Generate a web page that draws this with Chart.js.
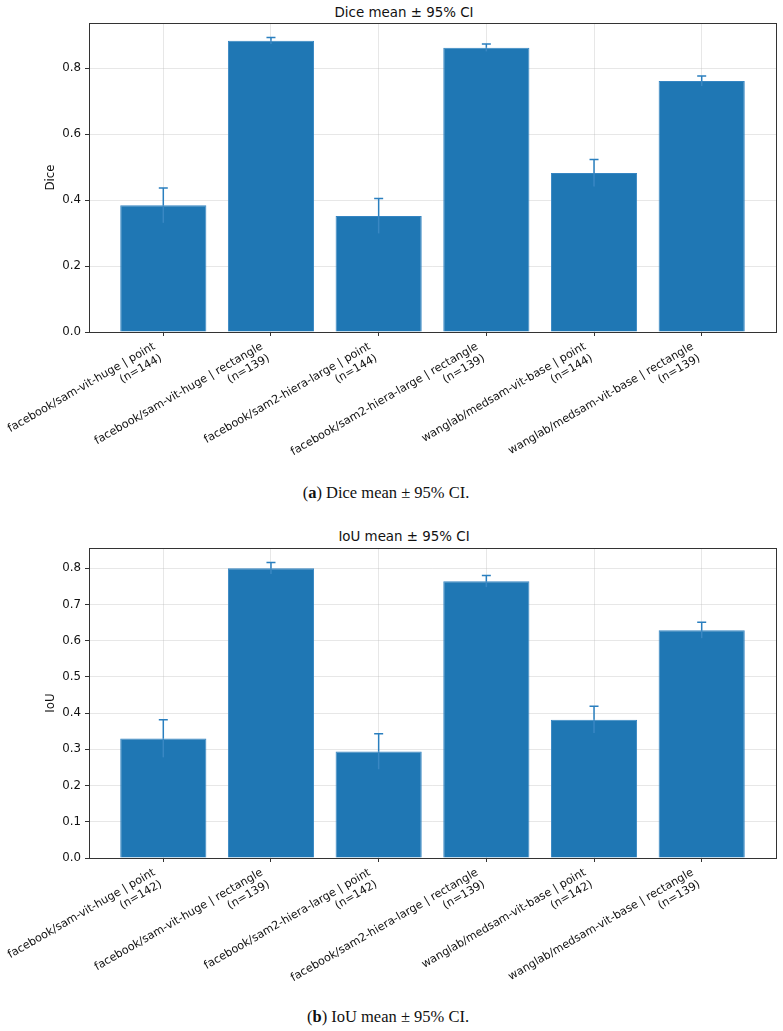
<!DOCTYPE html>
<html>
<head>
<meta charset="utf-8">
<script src="https://cdn.jsdelivr.net/npm/chart.js@4.4.1/dist/chart.umd.min.js"></script>
<style>
  body { margin: 0; background: #fff; width: 783px; height: 1031px; position: relative; overflow: hidden; }
  canvas { position: absolute; left: 0; }
  .ttl { position: absolute; font-family: 'DejaVu Sans', sans-serif; font-size: 13.4px; color: #111;
         transform: translate(-50%, -50%); white-space: nowrap; }
  .cap { position: absolute; font-family: 'Liberation Serif', serif; font-size: 16.5px; color: #111;
         transform: translate(-50%, -50%); white-space: nowrap; }
</style>
</head>
<body>
<div class="ttl" style="left:404px;top:12px">Dice mean ± 95% CI</div>
<canvas id="dice" width="783" height="480" style="top:0"></canvas>
<div class="cap" style="left:386px;top:493px">(<b>a</b>) Dice mean ± 95% CI.</div>

<div class="ttl" style="left:404px;top:536px">IoU mean ± 95% CI</div>
<canvas id="iou" width="783" height="480" style="top:520px"></canvas>
<div class="cap" style="left:388px;top:1017px">(<b>b</b>) IoU mean ± 95% CI.</div>

<script>
/* data */
const models = [
  'facebook/sam-vit-huge | point',
  'facebook/sam-vit-huge | rectangle',
  'facebook/sam2-hiera-large | point',
  'facebook/sam2-hiera-large | rectangle',
  'wanglab/medsam-vit-base | point',
  'wanglab/medsam-vit-base | rectangle',
];
const diceN    = [144, 139, 144, 139, 144, 139];
const diceMean = [0.384, 0.883, 0.352, 0.862, 0.482, 0.761];
const diceCI   = [0.053, 0.010, 0.053, 0.011, 0.041, 0.015];
const diceTicks = [0, 0.2, 0.4, 0.6, 0.8];
const diceMax = 0.937;

const iouN    = [142, 139, 142, 139, 142, 139];
const iouMean = [0.330, 0.800, 0.294, 0.764, 0.382, 0.629];
const iouCI   = [0.052, 0.016, 0.049, 0.016, 0.037, 0.022];
const iouTicks = [0, 0.1, 0.2, 0.3, 0.4, 0.5, 0.6, 0.7, 0.8];
const iouMax = 0.856;

const BLUE = '#1f77b4';
const GRID = 'rgba(176,176,176,0.3)';
const FONT = 'DejaVu Sans';

/* error bars, drawn right after the bars so the grid still lands on top */
const errorBars = {
  id: 'errorBars',
  afterDatasetsDraw(chart, args, opts) {
    const { ctx, scales: { x, y } } = chart;
    ctx.save();
    ctx.lineWidth = 1.5;
    opts.mean.forEach((m, i) => {
      const px = x.getPixelForValue(i);
      const mid = y.getPixelForValue(m);
      const top = y.getPixelForValue(m + opts.ci[i]);
      const bot = y.getPixelForValue(m - opts.ci[i]);
      // lower half sits on the bar, only faintly visible
      ctx.strokeStyle = '#3987c3';
      ctx.beginPath();
      ctx.moveTo(px, bot); ctx.lineTo(px, mid);
      ctx.stroke();
      ctx.strokeStyle = '#2a7fbf';
      ctx.beginPath();
      ctx.moveTo(px, mid); ctx.lineTo(px, top);
      ctx.moveTo(px - 4.5, top); ctx.lineTo(px + 4.5, top);
      ctx.stroke();
    });
    ctx.restore();
  },
};

/* matplotlib style box round the axes */
const frame = {
  id: 'frame',
  afterDraw(chart) {
    const { ctx, chartArea: a } = chart;
    ctx.save();
    ctx.strokeStyle = '#333';
    ctx.lineWidth = 1;
    ctx.strokeRect(Math.round(a.left) + 0.5, Math.round(a.top) + 0.5,
                   Math.round(a.right - a.left), Math.round(a.bottom - a.top));
    ctx.restore();
  },
};

function makeChart(id, mean, ci, ns, yTicks, yMax, yTitle, top, xHeight) {
  const labels = models.map((m, i) => [m, '(n=' + ns[i] + ')']);
  return new Chart(document.getElementById(id), {
    type: 'bar',
    data: {
      datasets: [{
        data: mean.map((v, i) => ({ x: i, y: v })),
        backgroundColor: BLUE,
        borderColor: '#3585c2',
        borderWidth: 1,
        barPercentage: 0.8,
        categoryPercentage: 1,
      }],
    },
    options: {
      responsive: false,
      animation: false,
      layout: { padding: { top: top, right: 7, left: 0, bottom: 0 } },
      plugins: {
        legend: { display: false },
        tooltip: { enabled: false },
        errorBars: { mean, ci },
      },
      scales: {
        x: {
          type: 'linear',
          min: -0.69, max: 5.69,
          offset: false,
          z: 1,
          border: { display: false },
          grid: { offset: false, color: GRID, lineWidth: 1, tickLength: 4, tickColor: '#333', tickWidth: 1 },
          afterBuildTicks: s => { s.ticks = models.map((_, i) => ({ value: i })); },
          afterFit: s => {
            s.height = xHeight;
            s.paddingLeft = 0; s.paddingRight = 0;
          },
          ticks: {
            autoSkip: false,
            minRotation: 30, maxRotation: 30,
            padding: 4,
            labelOffset: -9,
            color: '#111',
            font: { family: FONT, size: 11.2, lineHeight: 1.2 },
            callback: v => labels[v],
          },
        },
        y: {
          min: 0, max: yMax,
          z: 1,
          border: { display: false },
          grid: { color: GRID, lineWidth: 1, tickLength: 4, tickColor: '#333', tickWidth: 1 },
          afterBuildTicks: s => { s.ticks = yTicks.map(v => ({ value: v })); },
          afterFit: s => {
            s.width = 89;
            s.paddingTop = 0; s.paddingBottom = 0;
          },
          ticks: {
            padding: 4,
            color: '#111',
            font: { family: FONT, size: 11.8 },
            callback: v => v.toFixed(1),
          },
          title: {
            display: true,
            text: yTitle,
            color: '#111',
            font: { family: FONT, size: 11.8 },
            padding: { top: 44, bottom: 0 },
          },
        },
      },
    },
    plugins: [errorBars, frame],
  });
}

makeChart('dice', diceMean, diceCI, diceN, diceTicks, diceMax, 'Dice', 23, 148);
makeChart('iou', iouMean, iouCI, iouN, iouTicks, iouMax, 'IoU', 28, 142);
</script>
</body>
</html>
